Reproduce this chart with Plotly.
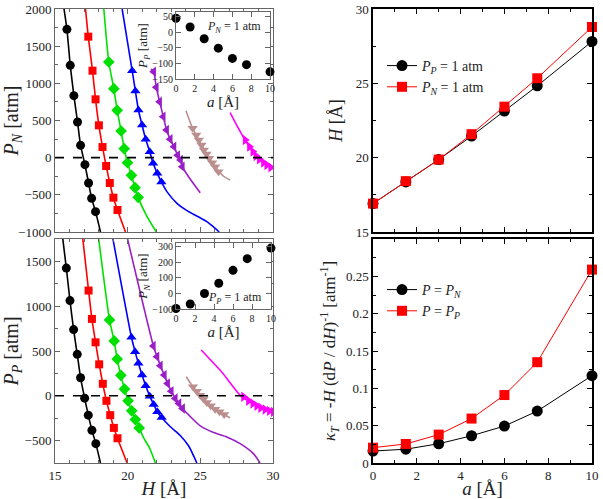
import plotly.graph_objects as go

# ---------------- data ----------------
# Top-left: P_N vs H (markers)
tl_black_H = [15.82, 16.05, 16.30, 16.55, 16.76, 17.06, 17.31, 17.52, 17.79]
tl_black_P = [1726, 1242, 834, 480, 166, -94, -341, -547, -726]
tl_red_H = [17.29, 17.58, 17.79, 18.02, 18.27, 18.52, 18.77, 19.02, 19.30]
tl_red_P = [1628, 1170, 785, 435, 143, -112, -341, -538, -704]
tl_green_H = [18.70, 19.05, 19.28, 19.55, 19.76, 19.99, 20.26, 20.51, 20.72]
tl_green_P = [1287, 928, 637, 359, 121, -67, -238, -404, -534]
tl_blue_H = [20.31, 20.53, 20.74, 20.99, 21.24, 21.52, 21.75, 22.04, 22.32]
tl_blue_P = [1170, 897, 641, 439, 247, 81, -76, -211, -327]
tl_purple_H = [21.79, 21.97, 22.20, 22.45, 22.68, 22.93, 23.19, 23.44, 23.64, 23.76]
tl_purple_P = [1157, 946, 753, 552, 372, 247, 148, 31, -31, -121]
tl_brown_H = [24.47, 24.72, 24.90, 25.08, 25.24, 25.43, 25.61, 25.82, 26.02, 26.25]
tl_brown_P = [395, 305, 238, 170, 103, 49, -9, -67, -121, -188]
tl_magenta_H = [28.08, 28.38, 28.61, 28.83, 29.06, 29.34, 29.57, 29.84]
tl_magenta_P = [238, 148, 81, 22, -22, -67, -99, -130]

# Top-left: fitted curves
tl_black_line_H = [15.62, 15.82, 16.05, 16.30, 16.55, 16.76, 17.06, 17.31, 17.52, 17.79, 18.13]
tl_black_line_P = [2000, 1726, 1242, 834, 480, 166, -94, -341, -547, -726, -1000]
tl_red_line_H = [17.10, 17.29, 17.58, 17.79, 18.02, 18.27, 18.52, 18.77, 19.02, 19.30, 19.85]
tl_red_line_P = [2000, 1628, 1170, 785, 435, 143, -112, -341, -538, -704, -1000]
tl_green_line_H = [18.36, 18.70, 19.05, 19.28, 19.55, 19.76, 19.99, 20.26, 20.51, 20.72, 21.30, 21.97]
tl_green_line_P = [2000, 1287, 928, 637, 359, 121, -67, -238, -404, -534, -780, -1000]
tl_blue_line_H = [19.62, 20.31, 20.53, 20.74, 20.99, 21.24, 21.52, 21.75, 22.04, 22.32, 22.70, 23.39, 24.08, 24.76, 25.45, 26.02, 26.30]
tl_blue_line_P = [2000, 1170, 897, 641, 439, 247, 81, -76, -211, -327, -457, -614, -713, -785, -861, -951, -1000]
tl_purple_line_H = [21.60, 21.79, 21.97, 22.20, 22.45, 22.68, 22.93, 23.19, 23.44, 23.64, 23.76, 24.20, 24.99]
tl_purple_line_P = [1190, 1157, 946, 753, 552, 372, 247, 148, 31, -31, -121, -260, -471]
tl_brown_line_H = [24.01, 24.47, 24.90, 25.43, 26.02, 26.60, 27.05]
tl_brown_line_P = [632, 395, 238, 49, -121, -250, -300]
tl_magenta_line_H = [27.05, 27.60, 28.08, 28.61, 29.06, 29.57, 30.30]
tl_magenta_line_P = [605, 400, 238, 81, -22, -99, -175]

# Bottom-left: P_P vs H (markers)
bl_black_H = [15.78, 16.03, 16.28, 16.53, 16.76, 17.04, 17.29, 17.54, 17.81]
bl_black_P = [1425, 1063, 739, 463, 201, -26, -216, -384, -534]
bl_red_H = [17.31, 17.54, 17.79, 18.04, 18.29, 18.54, 18.80, 19.05, 19.30]
bl_red_P = [1175, 858, 597, 351, 134, -56, -216, -358, -474]
bl_green_H = [18.75, 19.07, 19.28, 19.53, 19.78, 20.03, 20.28, 20.53, 20.79]
bl_green_P = [847, 612, 410, 228, 75, -56, -168, -265, -358]
bl_blue_H = [20.26, 20.51, 20.74, 20.99, 21.24, 21.52, 21.79, 22.04, 22.34]
bl_blue_P = [653, 493, 362, 231, 112, -4, -97, -179, -243]
bl_purple_H = [21.77, 22.02, 22.25, 22.52, 22.75, 23.00, 23.28, 23.53, 23.78]
bl_purple_P = [556, 437, 336, 231, 138, 52, -30, -86, -142]
bl_brown_H = [24.49, 24.76, 24.99, 25.22, 25.45, 25.72, 26.02, 26.32, 26.64]
bl_brown_P = [101, 52, 7, -37, -75, -112, -149, -179, -209]
bl_magenta_H = [27.97, 28.31, 28.61, 28.88, 29.15, 29.45, 29.75, 30.02]
bl_magenta_P = [-11, -56, -86, -112, -134, -153, -168, -179]

# Bottom-left: fitted curves
bl_black_line_H = [15.50, 15.78, 16.03, 16.28, 16.53, 16.76, 17.04, 17.29, 17.54, 17.81, 18.13]
bl_black_line_P = [1800, 1425, 1063, 739, 463, 201, -26, -216, -384, -534, -750]
bl_red_line_H = [16.88, 17.31, 17.54, 17.79, 18.04, 18.29, 18.54, 18.80, 19.05, 19.30, 19.96]
bl_red_line_P = [1800, 1175, 858, 597, 351, 134, -56, -216, -358, -474, -750]
bl_green_line_H = [17.97, 18.75, 19.07, 19.28, 19.53, 19.78, 20.03, 20.28, 20.53, 20.79, 21.10, 21.50, 21.91]
bl_green_line_P = [1800, 847, 612, 410, 228, 75, -56, -168, -265, -358, -470, -580, -750]
bl_blue_line_H = [18.93, 20.26, 20.51, 20.74, 20.99, 21.24, 21.52, 21.79, 22.04, 22.34, 22.90, 23.60, 24.20, 24.76]
bl_blue_line_P = [1800, 653, 493, 362, 231, 112, -4, -97, -179, -243, -340, -440, -560, -750]
bl_purple_line_H = [19.92, 21.77, 22.02, 22.25, 22.52, 22.75, 23.00, 23.28, 23.53, 23.78, 25.00, 25.91, 26.82, 27.74, 28.65, 29.11]
bl_purple_line_P = [1800, 556, 437, 336, 231, 138, 52, -30, -86, -142, -336, -410, -459, -534, -645, -750]
bl_brown_line_H = [24.03, 24.49, 24.99, 25.45, 26.02, 26.64, 27.05]
bl_brown_line_P = [213, 101, 7, -75, -149, -209, -246]
bl_magenta_line_H = [25.06, 26.50, 27.78, 28.61, 29.15, 29.75, 30.20]
bl_magenta_line_P = [511, 260, 0, -86, -134, -168, -185]

# Right panels
a_vals = [0, 1.5, 3, 4.5, 6, 7.5, 10]
H_PP1 = [16.91, 18.37, 19.87, 21.45, 23.14, 24.83, 27.82]
H_PN1 = [16.91, 18.42, 19.87, 21.58, 23.43, 25.34, 28.79]
kappa_PN = [0.0160, 0.0185, 0.0258, 0.0365, 0.0495, 0.0695, 0.117]
kappa_PP = [0.0205, 0.0255, 0.0380, 0.0595, 0.0910, 0.135, 0.259]

# Insets
PP_at_PN1 = [45, 17, -21, -51, -84, -104, -127]
PN_at_PP1 = [-97, -68, 0, 66, 149, 224, 292]

# ---------------- figure ----------------
FONT = "Liberation Serif"
fig = go.Figure()

colors = {"black": "#000000", "red": "#ff0000", "green": "#00e000", "blue": "#0000ff",
          "purple": "#9a1ec8", "brown": "#bc8f8f", "magenta": "#ff00ff"}
symbols = {"black": "circle", "red": "square", "green": "diamond", "blue": "triangle-up",
           "purple": "triangle-left", "brown": "triangle-down", "magenta": "triangle-right"}
sizes = {"black": 9, "red": 8, "green": 9, "blue": 9, "purple": 9, "brown": 9, "magenta": 9}

tl = {
    "black": (tl_black_line_H, tl_black_line_P, tl_black_H, tl_black_P),
    "red": (tl_red_line_H, tl_red_line_P, tl_red_H, tl_red_P),
    "green": (tl_green_line_H, tl_green_line_P, tl_green_H, tl_green_P),
    "blue": (tl_blue_line_H, tl_blue_line_P, tl_blue_H, tl_blue_P),
    "purple": (tl_purple_line_H, tl_purple_line_P, tl_purple_H, tl_purple_P),
    "brown": (tl_brown_line_H, tl_brown_line_P, tl_brown_H, tl_brown_P),
    "magenta": (tl_magenta_line_H, tl_magenta_line_P, tl_magenta_H, tl_magenta_P),
}
bl = {
    "black": (bl_black_line_H, bl_black_line_P, bl_black_H, bl_black_P),
    "red": (bl_red_line_H, bl_red_line_P, bl_red_H, bl_red_P),
    "green": (bl_green_line_H, bl_green_line_P, bl_green_H, bl_green_P),
    "blue": (bl_blue_line_H, bl_blue_line_P, bl_blue_H, bl_blue_P),
    "purple": (bl_purple_line_H, bl_purple_line_P, bl_purple_H, bl_purple_P),
    "brown": (bl_brown_line_H, bl_brown_line_P, bl_brown_H, bl_brown_P),
    "magenta": (bl_magenta_line_H, bl_magenta_line_P, bl_magenta_H, bl_magenta_P),
}

for data, xa, ya in ((tl, "x", "y"), (bl, "x2", "y2")):
    for c, (lx, ly, mx, my) in data.items():
        fig.add_trace(go.Scatter(x=lx, y=ly, mode="lines", xaxis=xa, yaxis=ya,
                                 line=dict(color=colors[c], width=1.6, shape="spline", smoothing=0.6),
                                 showlegend=False, hoverinfo="skip"))
        fig.add_trace(go.Scatter(x=mx, y=my, mode="markers", xaxis=xa, yaxis=ya,
                                 marker=dict(color=colors[c], symbol=symbols[c], size=sizes[c]),
                                 showlegend=False))

# right top
fig.add_trace(go.Scatter(x=a_vals, y=H_PP1, mode="lines+markers", xaxis="x3", yaxis="y3",
                         line=dict(color="black", width=1), marker=dict(symbol="circle", size=11, color="black"),
                         name="<i>P</i><sub><i>P</i></sub> = 1 atm", legend="legend", cliponaxis=False))
fig.add_trace(go.Scatter(x=a_vals, y=H_PN1, mode="lines+markers", xaxis="x3", yaxis="y3",
                         line=dict(color="red", width=1), marker=dict(symbol="square", size=10, color="red"),
                         name="<i>P</i><sub><i>N</i></sub> = 1 atm", legend="legend", cliponaxis=False))
# right bottom
fig.add_trace(go.Scatter(x=a_vals, y=kappa_PN, mode="lines+markers", xaxis="x4", yaxis="y4",
                         line=dict(color="black", width=1), marker=dict(symbol="circle", size=11, color="black"),
                         name="<i>P</i> = <i>P</i><sub><i>N</i></sub>", legend="legend2", cliponaxis=False))
fig.add_trace(go.Scatter(x=a_vals, y=kappa_PP, mode="lines+markers", xaxis="x4", yaxis="y4",
                         line=dict(color="red", width=1), marker=dict(symbol="square", size=10, color="red"),
                         name="<i>P</i> = <i>P</i><sub><i>P</i></sub>", legend="legend2", cliponaxis=False))
# insets
fig.add_trace(go.Scatter(x=a_vals, y=PP_at_PN1, mode="markers", xaxis="x5", yaxis="y5",
                         marker=dict(symbol="circle", size=9, color="black"), showlegend=False, cliponaxis=False))
fig.add_trace(go.Scatter(x=a_vals, y=PN_at_PP1, mode="markers", xaxis="x6", yaxis="y6",
                         marker=dict(symbol="circle", size=9, color="black"), showlegend=False, cliponaxis=False))

W, Hh = 603, 499
def px(x): return x / W
def py(y): return 1 - y / Hh

tickfont = dict(family=FONT, size=13, color="#222")
small_tickfont = dict(family=FONT, size=10, color="#222")
base = dict(showgrid=False, zeroline=False, showline=True, mirror="allticks", ticks="inside",
            ticklen=5, tickwidth=1, automargin=False)

left_line = dict(linecolor="#666", linewidth=1, tickcolor="#666", tickfont=tickfont)
right_line = dict(linecolor="#000", linewidth=1.5, tickcolor="#000", tickfont=tickfont)
inset_line = dict(linecolor="#666", linewidth=1, tickcolor="#666", tickfont=small_tickfont)

L0, L1 = px(55), px(273)
R0, R1 = px(373), px(592)
T0, T1 = py(232), py(9)
B0, B1 = py(463), py(239)

fig.update_layout(
    width=W, height=Hh, margin=dict(l=0, r=0, t=0, b=0, autoexpand=False),
    paper_bgcolor="white", plot_bgcolor="white",
    font=dict(family=FONT, color="#222"),
    xaxis=dict(**base, **left_line, domain=[L0, L1], range=[15, 30], anchor="y", showticklabels=False,
               dtick=5, minor=dict(dtick=1, ticklen=3, ticks="inside", tickcolor="#666")),
    yaxis=dict(**base, **left_line, domain=[T0, T1], range=[-1000, 2000], anchor="x", dtick=500,
               minor=dict(dtick=250, ticklen=3, ticks="inside", tickcolor="#666"),
               title=dict(text="<i>P</i><sub><i>N</i></sub> [atm]", font=dict(family=FONT, size=20), standoff=6)),
    xaxis2=dict(**base, **left_line, domain=[L0, L1], range=[15, 30], anchor="y2", dtick=5,
                minor=dict(dtick=1, ticklen=3, ticks="inside", tickcolor="#666"),
                title=dict(text="<i>H</i> [Å]", font=dict(family=FONT, size=19), standoff=7)),
    yaxis2=dict(**base, **left_line, domain=[B0, B1], range=[-750, 1750], anchor="x2",
                tickvals=[-500, 0, 500, 1000, 1500],
                minor=dict(dtick=250, ticklen=3, ticks="inside", tickcolor="#666"),
                title=dict(text="<i>P</i><sub><i>P</i></sub> [atm]", font=dict(family=FONT, size=20), standoff=6)),
    xaxis3=dict(**base, **right_line, domain=[R0, R1], range=[0, 10], anchor="y3", showticklabels=False,
                dtick=2, minor=dict(dtick=1, ticklen=3, ticks="inside")),
    yaxis3=dict(**base, **right_line, domain=[T0, T1], range=[15, 30], anchor="x3", dtick=5,
                minor=dict(dtick=2.5, ticklen=3, ticks="inside"),
                title=dict(text="<i>H</i> [Å]", font=dict(family=FONT, size=18), standoff=8)),
    xaxis4=dict(**base, **right_line, domain=[R0, R1], range=[0, 10], anchor="y4", dtick=2,
                minor=dict(dtick=1, ticklen=3, ticks="inside"),
                title=dict(text="<i>a</i> [Å]", font=dict(family=FONT, size=19), standoff=7)),
    yaxis4=dict(**base, **right_line, domain=[B0, B1], range=[0, 0.3], anchor="x4",
                tickvals=[0, 0.05, 0.1, 0.15, 0.2, 0.25], ticktext=["0", "0.05", "0.1", "0.15", "0.2", "0.25"],
                minor=dict(dtick=0.025, ticklen=3, ticks="inside"),
                title=dict(text="<i>κ</i><sub><i>T</i></sub> = -<i>H</i> (d<i>P</i> / d<i>H</i>)<sup>-1</sup> [atm<sup>-1</sup>]",
                           font=dict(family=FONT, size=17), standoff=6)),
    xaxis5=dict(**base, **inset_line, domain=[px(176), px(270)], range=[0, 10],
                anchor="y5", dtick=2,
                title=dict(text="<i>a</i> [Å]", font=dict(family=FONT, size=15), standoff=1)),
    yaxis5=dict(**base, **inset_line, domain=[py(79), py(12)], range=[-150, 65],
                anchor="x5", dtick=50,
                title=dict(text="<i>P</i><sub><i>P</i></sub> [atm]", font=dict(family=FONT, size=13), standoff=1)),
    xaxis6=dict(**base, **inset_line, domain=[px(176), px(271)], range=[0, 10],
                anchor="y6", dtick=2,
                title=dict(text="<i>a</i> [Å]", font=dict(family=FONT, size=15), standoff=1)),
    yaxis6=dict(**base, **inset_line, domain=[py(309), py(243)], range=[-100, 325],
                anchor="x6", dtick=100,
                title=dict(text="<i>P</i><sub><i>N</i></sub> [atm]", font=dict(family=FONT, size=13), standoff=1)),
    legend=dict(x=px(382), y=py(50), xanchor="left", yanchor="top", bgcolor="rgba(0,0,0,0)",
                font=dict(family=FONT, size=14, color="#222"), tracegroupgap=0, itemwidth=30),
    legend2=dict(x=px(382), y=py(274), xanchor="left", yanchor="top", bgcolor="rgba(0,0,0,0)",
                 font=dict(family=FONT, size=14, color="#222"), tracegroupgap=0, itemwidth=30),
    annotations=[
        dict(text="<i>P</i><sub><i>N</i></sub> = 1 atm", x=0.93, y=0.77, xref="x5 domain", yref="y5 domain",
             showarrow=False, xanchor="right", yanchor="middle", font=dict(family=FONT, size=12, color="#222")),
        dict(text="<i>P</i><sub><i>P</i></sub> = 1 atm", x=0.93, y=0.17, xref="x6 domain", yref="y6 domain",
             showarrow=False, xanchor="right", yanchor="middle", font=dict(family=FONT, size=12, color="#222")),
    ],
    shapes=[
        dict(type="line", xref="x domain", yref="y", x0=0, x1=1, y0=0, y1=0,
             line=dict(color="black", width=1.6, dash="dash")),
        dict(type="line", xref="x2 domain", yref="y2", x0=0, x1=1, y0=0, y1=0,
             line=dict(color="black", width=1.6, dash="dash")),
    ],
)

fig.write_html("out.html", config={"displayModeBar": False},
               post_script="document.body.style.margin='0';document.body.style.padding='0';")
